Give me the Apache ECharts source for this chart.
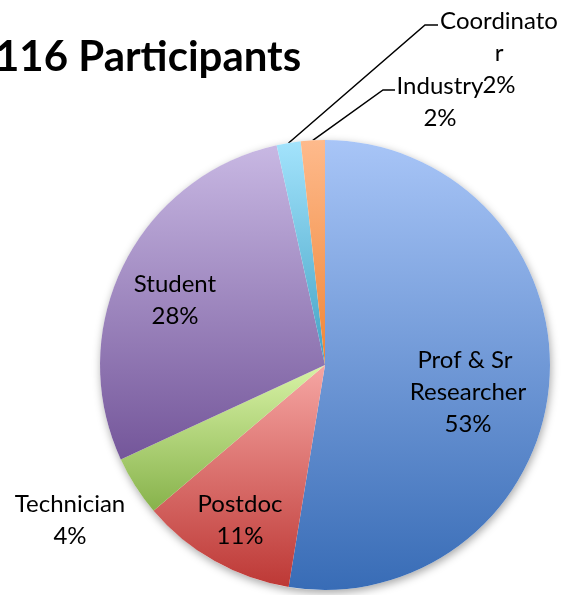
<!DOCTYPE html>
<html>
<head>
<meta charset="utf-8">
<script src="https://cdn.jsdelivr.net/npm/echarts@6/dist/echarts.min.js"></script>
<style>
  html, body { margin: 0; padding: 0; background: #fff; }
  #chart { width: 567px; height: 595px; }
</style>
</head>
<body>
<div id="chart"></div>
<script>
const titleText = '116 Participants'
const categories = ['Prof & Sr Researcher', 'Postdoc', 'Technician', 'Student', 'Coordinator', 'Industry']
const counts = [61, 13, 5, 33, 2, 2]

// top / bottom colour of each slice's vertical gradient
const sliceColors = [
  ['#a8c5f7', '#386cb6'],
  ['#f6a6a3', '#bd3835'],
  ['#d8f3a6', '#87b24b'],
  ['#c8b8e3', '#74569a'],
  ['#a3e3fc', '#42a2c4'],
  ['#feba8c', '#ef8536']
]

const CX = 325, CY = 365, R = 225

// label centres, relative to the pie centre
const labelOffsets = {
  'Prof & Sr Researcher': [143, 27],
  'Postdoc': [-85, 155],
  'Technician': [-255, 155],
  'Student': [-150, -65],
  'Coordinator': [174, -312],
  'Industry': [115, -263]
}
// leader line elbow + end, relative to the pie centre
const leaderLines = {
  'Coordinator': [[100, -340], [113, -340]],
  'Industry': [[58, -275], [70, -275]]
}

const total = counts.reduce((a, b) => a + b, 0)
let acc = 0
const midAngles = counts.map(v => {
  const m = (acc + v / 2) / total * Math.PI * 2
  acc += v
  return m
})

const chart = echarts.init(document.getElementById('chart'))

const labelBase = {
  color: '#000',
  fontFamily: 'Lato',
  fontSize: 24,
  lineHeight: 32,
  formatter: '{b}\n{d}%'
}

chart.setOption({
  animation: false,
  title: {
    text: titleText,
    left: -10,
    top: 31,
    textStyle: { fontFamily: 'Lato', fontWeight: 'bold', fontSize: 42, color: '#000' }
  },
  series: [
    {
      // white disc under the slices, only to carry the soft shadow
      type: 'pie',
      silent: true,
      center: [CX, CY],
      radius: R,
      label: { show: false },
      labelLine: { show: false },
      itemStyle: {
        color: '#fff',
        shadowBlur: 8,
        shadowOffsetX: 1,
        shadowOffsetY: 3,
        shadowColor: 'rgba(0,0,0,0.35)'
      },
      data: [{ value: 1 }]
    },
    {
      type: 'pie',
      center: [CX, CY],
      radius: R,
      startAngle: 90,
      clockwise: true,
      percentPrecision: 0,
      avoidLabelOverlap: false,
      itemStyle: { borderWidth: 0 },
      emphasis: { disabled: true },
      labelLine: {
        lineStyle: { color: '#000', width: 1.5 },
        smooth: false
      },
      labelLayout: function (params) {
        const name = categories[params.dataIndex]
        const off = labelOffsets[name]
        const res = { x: CX + off[0], y: CY + off[1], align: 'center', verticalAlign: 'middle' }
        const lead = leaderLines[name]
        if (lead) {
          const m = midAngles[params.dataIndex]
          res.labelLinePoints = [
            [CX + R * Math.sin(m), CY - R * Math.cos(m)],
            [CX + lead[0][0], CY + lead[0][1]],
            [CX + lead[1][0], CY + lead[1][1]]
          ]
        }
        return res
      },
      data: categories.map((name, i) => {
        const hasLead = !!leaderLines[name]
        const label = Object.assign({}, labelBase, { position: hasLead ? 'outside' : 'inside' })
        if (name === 'Prof & Sr Researcher') { label.width = 125; label.overflow = 'break' }
        if (name === 'Coordinator') { label.width = 121; label.overflow = 'breakAll' }
        return {
          name: name,
          value: counts[i],
          label: label,
          labelLine: { show: hasLead },
          itemStyle: {
            color: new echarts.graphic.LinearGradient(0, 0, 0, 1, [
              { offset: 0, color: sliceColors[i][0] },
              { offset: 1, color: sliceColors[i][1] }
            ])
          }
        }
      })
    }
  ]
})
</script>
</body>
</html>
